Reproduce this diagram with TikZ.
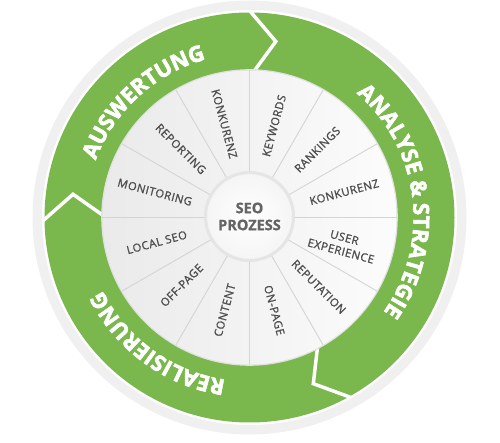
\documentclass[tikz,border=0pt]{standalone}
\usepackage{fontspec}
\setmainfont{Open Sans}
\newfontfamily\heavyfont{Open Sans}[BoldFeatures={FakeBold=2.6}]
\newfontfamily\lblfont{Open Sans}[FakeBold=1.3, LetterSpace=4]
\newfontfamily\centerfont{Open Sans}[BoldFeatures={FakeBold=1}]
\usetikzlibrary{decorations.text}
\definecolor{ringgreen}{RGB}{122,183,76}
\definecolor{lblgray}{RGB}{78,78,78}
\definecolor{divgray}{RGB}{212,212,212}
\definecolor{rimgray}{RGB}{240,240,240}
\definecolor{wheelL}{RGB}{234,234,234}
\definecolor{wheelR}{RGB}{252,252,252}
\definecolor{centergray}{RGB}{100,100,100}
\begin{document}
\begin{tikzpicture}[x=1pt,y=1pt,
  lbl/.style={font=\lblfont\fontsize{11.3}{14}\selectfont, text=lblgray, inner sep=0pt, align=center},
  ringtext/.style={decorate, decoration={text along path, text align=center,
      text={|\heavyfont\bfseries\fontsize{22}{22}\selectfont\color{white}|#1}}},
  chev/.style={draw=white, line width=3.5pt},
  divider/.style={draw=divgray, line width=0.9pt}]
\useasboundingbox (-249.5,-225.5) rectangle (250.5,217.5);
% outer light rim
\fill[rimgray, even odd rule] (0,0) circle (217) (0,0) circle (207.5);
% green ring
\fill[ringgreen, even odd rule] (0,0) circle (205) (0,0) circle (140);
% chevron separators
\foreach \a in {90,-60.5,181} \draw[chev] (\a:207) -- (\a-8.5:178) -- (\a:140);
% ring texts
\path[ringtext={AUSWERTUNG}] (172:164) arc[start angle=172, end angle=93, radius=164];
\path[ringtext={ANALYSE {\&} STRATEGIE}] (62:164) arc[start angle=62, end angle=-48, radius=164];
\path[ringtext={REALISIERUNG}] (-80:164) arc[start angle=-80, end angle=-172, radius=164];
% wheel
\fill[black!12] (0,0) circle (148.3);
\shade[left color=wheelL, right color=wheelR] (0,0) circle (147);
\foreach \a in {0,30,...,330} \draw[divider] (\a:44) -- (\a:147);
% labels
\node[lbl, rotate=-75] (l1) at (105:97) {KONKURENZ};
\node[lbl, rotate=75] (l2) at (75:95) {KEYWORDS};
\node[lbl, rotate=45] (l3) at (45:96) {RANKINGS};
\node[lbl, rotate=15] (l4) at (15:98) {KONKURENZ};
\node[lbl, rotate=-15] (l5) at (-16:97) {USER\\EXPERIENCE};
\node[lbl, rotate=-45] (l6) at (-45:98) {REPUTATION};
\node[lbl, rotate=-75] (l7) at (-75:96) {ON-PAGE};
\node[lbl, rotate=75] (l8) at (-105:96) {CONTENT};
\node[lbl, rotate=45] (l9) at (-135:96) {OFF-PAGE};
\node[lbl, rotate=15] (l10) at (-165:96) {LOCAL SEO};
\node[lbl, rotate=-15] (l11) at (165:98) {MONITORING};
\node[lbl, rotate=-45] (l12) at (135:97) {REPORTING};
% center
\node[circle, minimum size=88pt, inner sep=0pt, draw=black!10, line width=3pt,
      inner color=white, outer color=black!4,
      font=\centerfont\bfseries\fontsize{14.5}{17}\selectfont, text=centergray, align=center] (c) at (0,1) {SEO\\PROZESS};
\end{tikzpicture}
\end{document}
